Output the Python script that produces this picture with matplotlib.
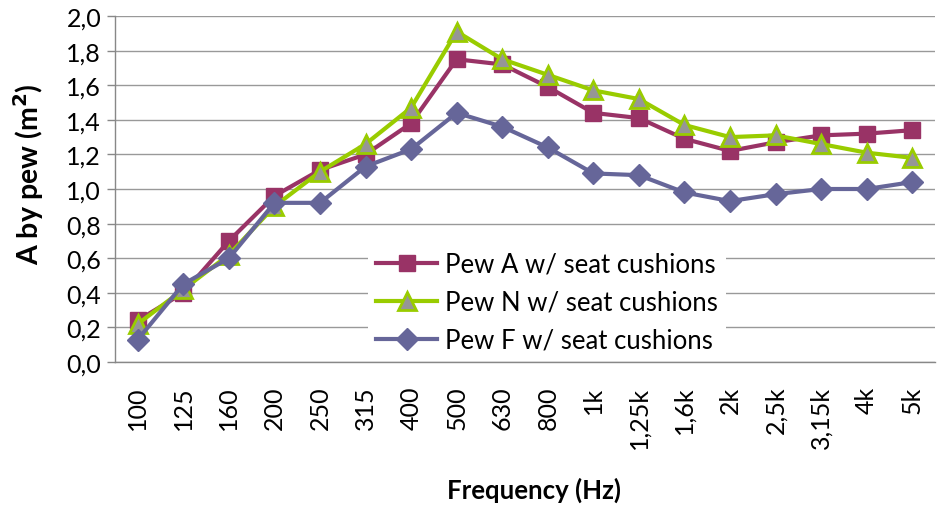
import numpy as np
import matplotlib
matplotlib.use('Agg')
import matplotlib.pyplot as plt

# data (A by pew, m^2)
freqs = ['100', '125', '160', '200', '250', '315', '400', '500', '630', '800',
         '1k', '1,25k', '1,6k', '2k', '2,5k', '3,15k', '4k', '5k']
pew_a = [0.24, 0.40, 0.70, 0.96, 1.11, 1.20, 1.38, 1.75, 1.72, 1.59,
         1.44, 1.41, 1.29, 1.22, 1.27, 1.31, 1.32, 1.34]
pew_n = [0.22, 0.42, 0.62, 0.90, 1.10, 1.26, 1.47, 1.91, 1.75, 1.66,
         1.57, 1.52, 1.37, 1.30, 1.31, 1.26, 1.21, 1.18]
pew_f = [0.13, 0.45, 0.60, 0.92, 0.92, 1.13, 1.23, 1.44, 1.36, 1.24,
         1.09, 1.08, 0.98, 0.93, 0.97, 1.00, 1.00, 1.04]

plt.rcParams['font.family'] = ['Lato', 'DejaVu Sans']

fig = plt.figure(figsize=(9.43, 5.06), dpi=100)
ax = fig.add_axes([0.122, 0.2826, 0.8695, 0.6838])

x = np.arange(len(freqs))
ax.plot(x, pew_a, color='#993366', lw=3, marker='s', ms=12,
        mfc='#993366', mec='#993366', label='Pew A w/ seat cushions', zorder=3)
ax.plot(x, pew_n, color='#99CC00', lw=3, marker='^', ms=13,
        mfc='#969696', mec='#99CC00', mew=2, label='Pew N w/ seat cushions', zorder=4)
ax.plot(x, pew_f, color='#666699', lw=3, marker='D', ms=11,
        mfc='#666699', mec='#666699', label='Pew F w/ seat cushions', zorder=5)

ax.set_xlim(-0.5, len(freqs) - 0.5)
ax.set_ylim(0, 2.0)
ax.set_xticks(x)
ax.set_xticklabels(freqs, rotation=90, fontsize=18)
yt = np.arange(0, 2.01, 0.2)
ax.set_yticks(yt)
ax.set_yticklabels([('%.1f' % v).replace('.', ',') for v in yt], fontsize=18)
ax.tick_params(axis='x', length=0, pad=17)
ax.tick_params(axis='y', length=6, width=1, color='#888888', pad=4)

ax.grid(axis='y', color='#999999', lw=1)
ax.set_axisbelow(True)
for s in ['top', 'right']:
    ax.spines[s].set_visible(False)
for s in ['left', 'bottom']:
    ax.spines[s].set_color('#888888')
    ax.spines[s].set_linewidth(1)

ax.set_ylabel('A by pew (m$^\\mathbf{2}$)', fontsize=20.5, fontweight='bold')
ax.yaxis.set_label_coords(-0.084, 0.545)
ax.set_xlabel('Frequency (Hz)', fontsize=18.5, fontweight='bold')
ax.xaxis.set_label_coords(0.511, -0.33)

leg = ax.legend(loc='center left', bbox_to_anchor=(0.3085, 0.173), fontsize=18.5,
                frameon=True, facecolor='white', edgecolor='none', framealpha=1,
                fancybox=False, borderaxespad=0, borderpad=0.3,
                handlelength=2.4, labelspacing=0.5, handletextpad=0.3)

fig.savefig('out.png', dpi=100)
